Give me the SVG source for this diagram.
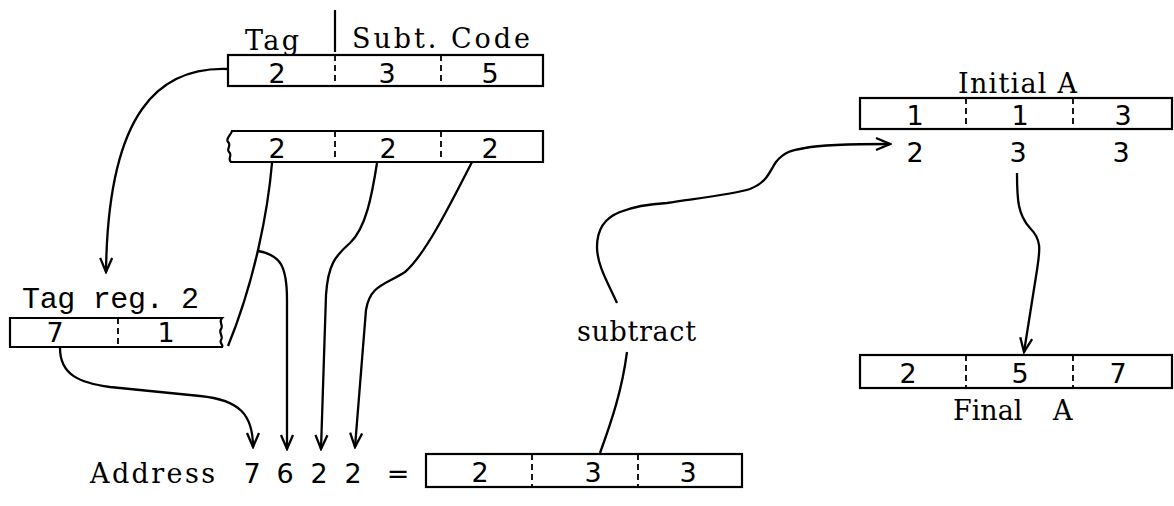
<svg xmlns="http://www.w3.org/2000/svg" width="1174" height="506" viewBox="0 0 1174 506">
<style>
.box{fill:none;stroke:#000;stroke-width:2.2}
.div{stroke:#000;stroke-width:1.8;stroke-dasharray:6,4}
.ln{fill:none;stroke:#000;stroke-width:2.3}
.t{font-family:"DejaVu Serif","Liberation Serif",serif;font-size:27px;fill:#000}
.d{font-family:"DejaVu Sans","Liberation Sans",sans-serif;font-size:27px;fill:#000;text-anchor:middle}
.m{font-family:"Liberation Mono","DejaVu Sans Mono",monospace;font-size:30px;fill:#000}
</style>
<defs>
<marker id="ah" viewBox="-16 -8 18 16" refX="0" refY="0" markerWidth="18" markerHeight="16" markerUnits="userSpaceOnUse" orient="auto"><path d="M-14,-6 L0,0 L-14,6" fill="none" stroke="#000" stroke-width="2.3"/></marker>
</defs>

<g id="top-word">
<text class="t" x="245" y="50" textLength="54" lengthAdjust="spacing">Tag</text>
<line x1="335" y1="10" x2="335" y2="52" stroke="#000" stroke-width="2.2"/>
<text class="t" x="352" y="48" textLength="178" lengthAdjust="spacing">Subt. Code</text>
<rect class="box" x="228" y="55" width="315" height="31"/>
<line class="div" x1="335" y1="55" x2="335" y2="86"/>
<line class="div" x1="441" y1="55" x2="441" y2="86"/>
<text class="d" x="277" y="83">2</text>
<text class="d" x="387" y="83">3</text>
<text class="d" x="490" y="83">5</text>
</g>

<g id="mask-word">
<path class="box" d="M232,131 L543,131 L543,162 L231,162 C227,159 233,155 229,152 C226,149 232,145 228,142 C225,139 231,135 232,131 Z"/>
<line class="div" x1="335" y1="131" x2="335" y2="162"/>
<line class="div" x1="441" y1="131" x2="441" y2="162"/>
<text class="d" x="277" y="158">2</text>
<text class="d" x="388" y="158">2</text>
<text class="d" x="490" y="158">2</text>
</g>

<g id="tag-reg">
<text class="m" x="22" y="308" textLength="177" lengthAdjust="spacing">Tag reg. 2</text>
<path class="box" d="M10,318 L222,318 C218,322 224,325 221,329 C218,333 224,336 221,340 C219,343 224,345 222,347 L10,347 Z"/>
<line class="div" x1="118" y1="318" x2="118" y2="347"/>
<text class="d" x="55" y="342">7</text>
<text class="d" x="166" y="342">1</text>
</g>

<g id="address">
<text class="t" x="90" y="483" textLength="125" lengthAdjust="spacing">Address</text>
<text class="d" x="252" y="483">7</text>
<text class="d" x="285" y="483">6</text>
<text class="d" x="319" y="483">2</text>
<text class="d" x="353" y="483">2</text>
<text class="d" x="398" y="483">=</text>
<rect class="box" x="426" y="454" width="316" height="33"/>
<line class="div" x1="532" y1="454" x2="532" y2="487"/>
<line class="div" x1="638" y1="454" x2="638" y2="487"/>
<text class="d" x="480" y="482">2</text>
<text class="d" x="593" y="482">3</text>
<text class="d" x="688" y="482">3</text>
</g>

<g id="subtract">
<text class="t" x="577" y="341" textLength="119" lengthAdjust="spacing">subtract</text>
</g>

<g id="initial-a">
<text class="t" x="958" y="93" textLength="119" lengthAdjust="spacing">Initial A</text>
<rect class="box" x="860" y="98" width="312" height="31"/>
<line class="div" x1="966" y1="98" x2="966" y2="129"/>
<line class="div" x1="1073" y1="98" x2="1073" y2="129"/>
<text class="d" x="915" y="125">1</text>
<text class="d" x="1020" y="125">1</text>
<text class="d" x="1123" y="125">3</text>
<text class="d" x="915" y="162">2</text>
<text class="d" x="1018" y="162">3</text>
<text class="d" x="1121" y="162">3</text>
</g>

<g id="final-a">
<rect class="box" x="860" y="355" width="312" height="33"/>
<line class="div" x1="966" y1="355" x2="966" y2="388"/>
<line class="div" x1="1073" y1="355" x2="1073" y2="388"/>
<text class="d" x="908" y="383">2</text>
<text class="d" x="1020" y="383">5</text>
<text class="d" x="1118" y="383">7</text>
<text class="t" x="953" y="420">Final</text>
<text class="t" x="1053" y="420">A</text>
</g>

<g id="connectors">
<path class="ln" d="M227,69 C160,67 108,110 106,272" marker-end="url(#ah)"/>
<path class="ln" d="M60,348 C60,375 80,383 110,387 L200,396 C240,400 253,415 253,447" marker-end="url(#ah)"/>
<path class="ln" d="M272,163 C268,210 255,280 228,346"/>
<path class="ln" d="M258,251 C280,255 287,265 287,300 L287,449" marker-end="url(#ah)"/>
<path class="ln" d="M377,163 C372,195 366,228 350,243 C335,256 328,265 326,295 L321,449" marker-end="url(#ah)"/>
<path class="ln" d="M472,162 C450,205 425,255 405,272 C385,285 370,285 366,310 L355,447" marker-end="url(#ah)"/>
<path class="ln" d="M600,453 C612,420 622,390 627,352"/>
<path class="ln" d="M617,303 C608,283 597,265 597,247 C597,228 607,217 620,212 C635,206 650,204 667,203 C700,198 735,194 750,189 C768,182 770,170 776,162 C784,152 792,150 805,148 C820,145 840,144 890,144" marker-end="url(#ah)"/>
<path class="ln" d="M1017,173 C1017,200 1018,215 1030,228 C1042,240 1040,250 1037,270 L1024,352" marker-end="url(#ah)"/>
</g>
</svg>
